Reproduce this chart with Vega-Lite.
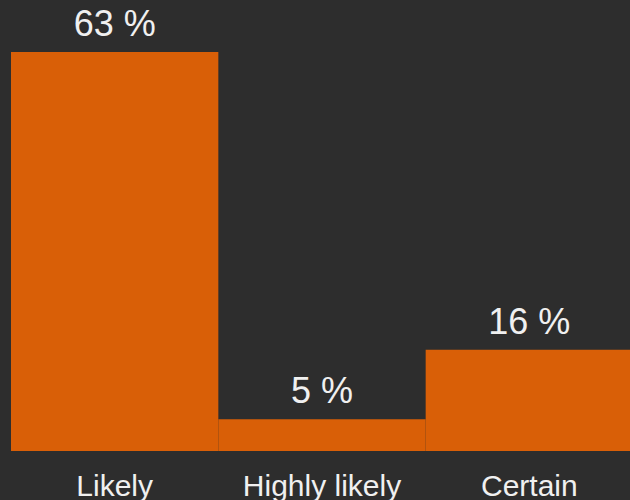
{
  "$schema": "https://vega.github.io/schema/vega-lite/v6.json",
  "width": 619,
  "height": 399,
  "autosize": {"type": "none"},
  "padding": {"left": 11, "top": 52, "right": 0, "bottom": 49},
  "background": "#2d2d2d",
  "config": {
    "view": {"stroke": null},
    "font": "Liberation Sans"
  },
  "data": {
    "values": [
      {"category": "Likely", "value": 63, "label": "63 %"},
      {"category": "Highly likely", "value": 5, "label": "5 %"},
      {"category": "Certain", "value": 16, "label": "16 %"}
    ]
  },
  "encoding": {
    "x": {
      "field": "category",
      "type": "nominal",
      "sort": null,
      "scale": {"paddingInner": 0, "paddingOuter": 0, "range": [0, 622]},
      "axis": {
        "title": null,
        "domain": false,
        "ticks": false,
        "labelAngle": 0,
        "labelPadding": 20,
        "labelFontSize": 30,
        "labelColor": "#f0f0f0",
        "labelFont": "Liberation Sans"
      }
    },
    "y": {
      "field": "value",
      "type": "quantitative",
      "scale": {"domain": [0, 63], "nice": false},
      "axis": null
    }
  },
  "layer": [
    {"mark": {"type": "bar", "color": "#d95f07"}},
    {
      "mark": {
        "type": "text",
        "baseline": "alphabetic",
        "dy": -16,
        "fontSize": 36,
        "color": "#f0f0f0"
      },
      "encoding": {"text": {"field": "label", "type": "nominal"}}
    }
  ]
}
